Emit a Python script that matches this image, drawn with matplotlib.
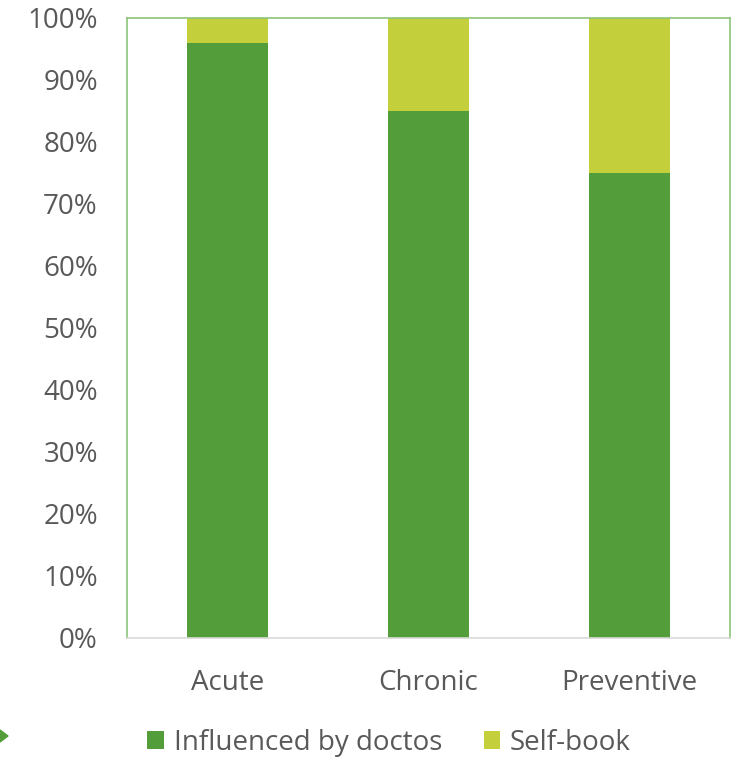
import matplotlib
matplotlib.use("Agg")
import matplotlib.pyplot as plt
from matplotlib.patches import Polygon
from matplotlib.ticker import PercentFormatter

categories = ["Acute", "Chronic", "Preventive"]
influenced = [96, 85, 75]
self_book = [4, 15, 25]
series_names = ["Influenced by doctos", "Self-book"]

plt.rcParams['font.family'] = ['Open Sans', 'DejaVu Sans']

W, H = 743, 763
fig = plt.figure(figsize=(W / 100, H / 100), dpi=100)
ax = fig.add_axes([127 / W, 1 - 638 / H, (730 - 127) / W, (638 - 18) / H])

dark = "#539E3A"
light = "#C3D03B"
x = range(len(categories))
ax.bar(x, influenced, width=0.4, color=dark, label=series_names[0])
ax.bar(x, self_book, width=0.4, bottom=influenced, color=light, label=series_names[1])

ax.set_xlim(-0.5, 2.5)
ax.set_ylim(0, 100)
ax.set_yticks(range(0, 101, 10))
ax.yaxis.set_major_formatter(PercentFormatter(decimals=0))
ax.set_xticks(list(x))
ax.set_xticklabels(categories)
ax.tick_params(axis='both', length=0, labelsize=20, colors="#595959")
ax.tick_params(axis='x', pad=22)
ax.tick_params(axis='y', pad=21)

for s in ['left', 'top', 'right']:
    ax.spines[s].set_color("#8CC47A")
    ax.spines[s].set_linewidth(1.2)
ax.spines['bottom'].set_color("#D9D9D9")
ax.spines['bottom'].set_linewidth(1.2)

fig.legend(loc='center', bbox_to_anchor=(389 / W, 1 - 743 / H), ncol=2, frameon=False,
           fontsize=20, handlelength=0.6, handleheight=0.6, handletextpad=0.35,
           columnspacing=1.5, labelcolor="#595959")

tri = Polygon([[0, 1 - 730 / H], [8 / W, 1 - 736 / H], [0, 1 - 742 / H]],
              closed=True, transform=fig.transFigure, color=dark)
fig.patches.append(tri)

fig.savefig("out.png", dpi=100)
